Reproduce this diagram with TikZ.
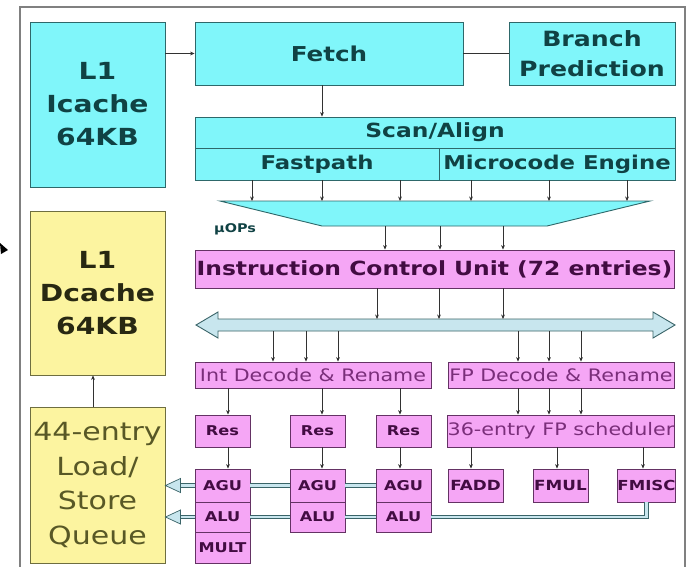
\documentclass[tikz,border=0pt]{standalone}
\usepackage{fontspec}
\setmainfont[FakeStretch=1.2]{DejaVu Sans}
\usetikzlibrary{arrows.meta,calc}
\definecolor{cyfill}{RGB}{128,246,250}
\definecolor{cyline}{RGB}{46,104,106}
\definecolor{cytext}{RGB}{16,66,68}
\definecolor{pkfill}{RGB}{245,166,245}
\definecolor{pkline}{RGB}{100,50,100}
\definecolor{pkbold}{RGB}{66,12,66}
\definecolor{pkreg}{RGB}{122,46,122}
\definecolor{ylfill}{RGB}{252,244,160}
\definecolor{ylline}{RGB}{110,110,64}
\definecolor{yltext}{RGB}{40,40,18}
\definecolor{yllight}{RGB}{88,88,38}
\definecolor{busfill}{RGB}{200,230,238}
\definecolor{busline}{RGB}{58,100,104}
\definecolor{framecol}{RGB}{128,128,128}
\definecolor{arrcol}{RGB}{50,50,50}
\begin{document}
\begin{tikzpicture}[x=1pt,y=-1pt,
  cbox/.style={draw=cyline,fill=cyfill,text=cytext,line width=0.9pt,inner sep=0pt,align=center},
  pbox/.style={draw=pkline,fill=pkfill,text=pkbold,line width=0.9pt,inner sep=0pt,align=center},
  ybox/.style={draw=ylline,fill=ylfill,text=yltext,line width=0.9pt,inner sep=0pt,align=center},
  big/.style={font=\bfseries\fontsize{23.5}{33}\selectfont},
  unit/.style={pbox,minimum width=55,font=\bfseries\fontsize{13.5}{15}\selectfont},
  reg/.style={font=\fontsize{17.2}{20}\selectfont,text=pkreg},
  arr/.style={draw=arrcol,line width=0.6pt,-{Stealth[length=4.5pt,width=3.8pt]}},
  plain/.style={draw=arrcol,line width=0.7pt},
  dbl/.style={draw=busline,line width=0.8pt,double=busfill,double distance=2.8pt},
  hhead/.style={draw=busline,fill=busfill,line width=0.7pt,line join=miter},
  busstyle/.style={draw=busline,fill=busfill,line width=0.9pt,line join=miter}
]
\useasboundingbox (0,0) rectangle (690,566);
\fill[white] (0,0) rectangle (690,566);
\draw[framecol,line width=1.6pt] (20,7) rectangle (685,580);
\fill[black] (0,243) -- (8,250) -- (1,254) -- cycle;

% caches and queue
\node[cbox,big,minimum width=135,minimum height=165] (icache) at (97.5,104.5) {L1\\Icache\\64KB};
\node[ybox,big,minimum width=135,minimum height=164] (dcache) at (97.5,293) {L1\\Dcache\\64KB};
\node[ybox,minimum width=135,minimum height=156,text=yllight,font=\fontsize{25}{34.5}\selectfont] (lsq) at (97.5,485) {44-entry\\Load/\\Store\\Queue};

% front end
\node[cbox,minimum width=268,minimum height=63,font=\bfseries\fontsize{20.5}{24}\selectfont] (fetch) at (329,53.5) {Fetch};
\node[cbox,minimum width=166,minimum height=63,font=\bfseries\fontsize{21}{30.5}\selectfont] (branch) at (592,53.5) {Branch\\Prediction};
\node[cbox,minimum width=480,minimum height=31,font=\bfseries\fontsize{19.5}{22}\selectfont] (scan) at (435,132.5) {Scan/Align};
\node[cbox,minimum width=244,minimum height=32,font=\bfseries\fontsize{19}{22}\selectfont] (fast) at (317,164) {Fastpath};
\node[cbox,minimum width=236,minimum height=32,font=\bfseries\fontsize{19}{22}\selectfont] (micro) at (557,164) {Microcode Engine};

% funnel
\coordinate (ftl) at (220,201);
\coordinate (ftr) at (650,201);
\coordinate (fbr) at (547,226);
\coordinate (fbl) at (322,226);
\coordinate (ftop) at (435,201);
\coordinate (fbot) at (435,226);
\draw[draw=cyline,fill=cyfill,line width=0.9pt,line join=miter] (ftl) -- (ftr) -- (fbr) -- (fbl) -- cycle;
\node[text=cytext,font=\bfseries\fontsize{12}{13}\selectfont,anchor=west,inner sep=0pt] (uops) at (214,229) {µOPs};

% ICU
\node[pbox,minimum width=479,minimum height=38,font=\bfseries\fontsize{19.5}{22}\selectfont] (icu) at (434.5,269) {Instruction Control Unit (72 entries)};

% bus
\coordinate (bustop) at (435,319);
\coordinate (busbot) at (435,331);
\draw[busstyle] (196,325) -- (218,312) -- (218,319) -- (653,319) -- (653,312) -- (675,325) -- (653,338) -- (653,331) -- (218,331) -- (218,338) -- cycle;

% decode
\node[pbox,reg,minimum width=236,minimum height=26] (intdec) at (313,375) {Int Decode \& Rename};
\node[pbox,reg,minimum width=226,minimum height=26] (fpdec) at (561,375) {FP Decode \& Rename};

% reservation stations
\node[unit,minimum height=32] (res1) at (222.5,431) {Res};
\node[unit,minimum height=32] (res2) at (317.5,431) {Res};
\node[unit,minimum height=32] (res3) at (403.5,431) {Res};
\node[pbox,reg,minimum width=226,minimum height=32] (fpsch) at (561,431) {36-entry FP scheduler};

% execution units
\node[unit,minimum height=33] (agu1) at (222.5,485.5) {AGU};
\node[unit,minimum height=30] (alu1) at (222.5,517) {ALU};
\node[unit,minimum height=31] (mult) at (222.5,547.5) {MULT};
\node[unit,minimum height=33] (agu2) at (317.5,485.5) {AGU};
\node[unit,minimum height=30] (alu2) at (317.5,517) {ALU};
\node[unit,minimum height=33] (agu3) at (403.5,485.5) {AGU};
\node[unit,minimum height=30] (alu3) at (403.5,517) {ALU};
\node[unit,minimum height=33,font=\bfseries\fontsize{14}{15}\selectfont] (fadd) at (475.5,485.5) {FADD};
\node[unit,minimum height=33,font=\bfseries\fontsize{14}{15}\selectfont] (fmul) at (560.5,485.5) {FMUL};
\node[unit,minimum width=57,minimum height=33,font=\bfseries\fontsize{13.8}{15}\selectfont] (fmisc) at (646.5,485.5) {FMISC};

% column coordinates
\foreach \x [count=\i] in {252,322,400,471,549,627} \coordinate (a\i) at (\x,0);
\foreach \x [count=\i] in {385,440,503} \coordinate (b\i) at (\x,0);
\foreach \x [count=\i] in {377,439,503} \coordinate (c\i) at (\x,0);
\foreach \x [count=\i] in {273,306,338,518,549,581} \coordinate (d\i) at (\x,0);
\foreach \x [count=\i] in {228,322,400,471,557,643} \coordinate (e\i) at (\x,0);
\coordinate (q) at (93,0);

% connectors
\draw[arr] (icache.east |- fetch.west) -- (fetch.west);
\draw[plain] (fetch.east) -- (branch.west);
\draw[arr] (fetch.south -| e2) -- (scan.north -| e2);
\foreach \i in {1,2,3} \draw[arr] (fast.south -| a\i) -- (ftop -| a\i);
\foreach \i in {4,5,6} \draw[arr] (micro.south -| a\i) -- (ftop -| a\i);
\foreach \i in {1,2,3} \draw[arr] (fbot -| b\i) -- (icu.north -| b\i);
\foreach \i in {1,2,3} \draw[arr] (icu.south -| c\i) -- (bustop -| c\i);
\foreach \i in {1,2,3} \draw[arr] (busbot -| d\i) -- (intdec.north -| d\i);
\foreach \i in {4,5,6} \draw[arr] (busbot -| d\i) -- (fpdec.north -| d\i);
\draw[arr] (intdec.south -| e1) -- (res1.north -| e1);
\draw[arr] (intdec.south -| e2) -- (res2.north -| e2);
\draw[arr] (intdec.south -| e3) -- (res3.north -| e3);
\foreach \i in {4,5,6} \draw[arr] (fpdec.south -| d\i) -- (fpsch.north -| d\i);
\draw[arr] (res1.south -| e1) -- (agu1.north -| e1);
\draw[arr] (res2.south -| e2) -- (agu2.north -| e2);
\draw[arr] (res3.south -| e3) -- (agu3.north -| e3);
\draw[arr] (fpsch.south -| e4) -- (fadd.north -| e4);
\draw[arr] (fpsch.south -| e5) -- (fmul.north -| e5);
\draw[arr] (fpsch.south -| e6) -- (fmisc.north -| e6);
\draw[arr] (lsq.north -| q) -- (dcache.south -| q);

% result buses to load/store queue
\draw[dbl] (agu3.west) -- (agu2.east);
\draw[dbl] (agu2.west) -- (agu1.east);
\draw[dbl] (agu1.west) -- ($(lsq.east |- agu1.west)+(14,0)$);
\draw[hhead] (lsq.east |- agu1.west) -- ++(15,-7) -- ++(0,14) -- cycle;
\draw[dbl] (fmisc.south) -- (fmisc.south |- alu3.east) -- (alu3.east);
\draw[dbl] (alu3.west) -- (alu2.east);
\draw[dbl] (alu2.west) -- (alu1.east);
\draw[dbl] (alu1.west) -- ($(lsq.east |- alu1.west)+(14,0)$);
\draw[hhead] (lsq.east |- alu1.west) -- ++(15,-7) -- ++(0,14) -- cycle;
\end{tikzpicture}
\end{document}
